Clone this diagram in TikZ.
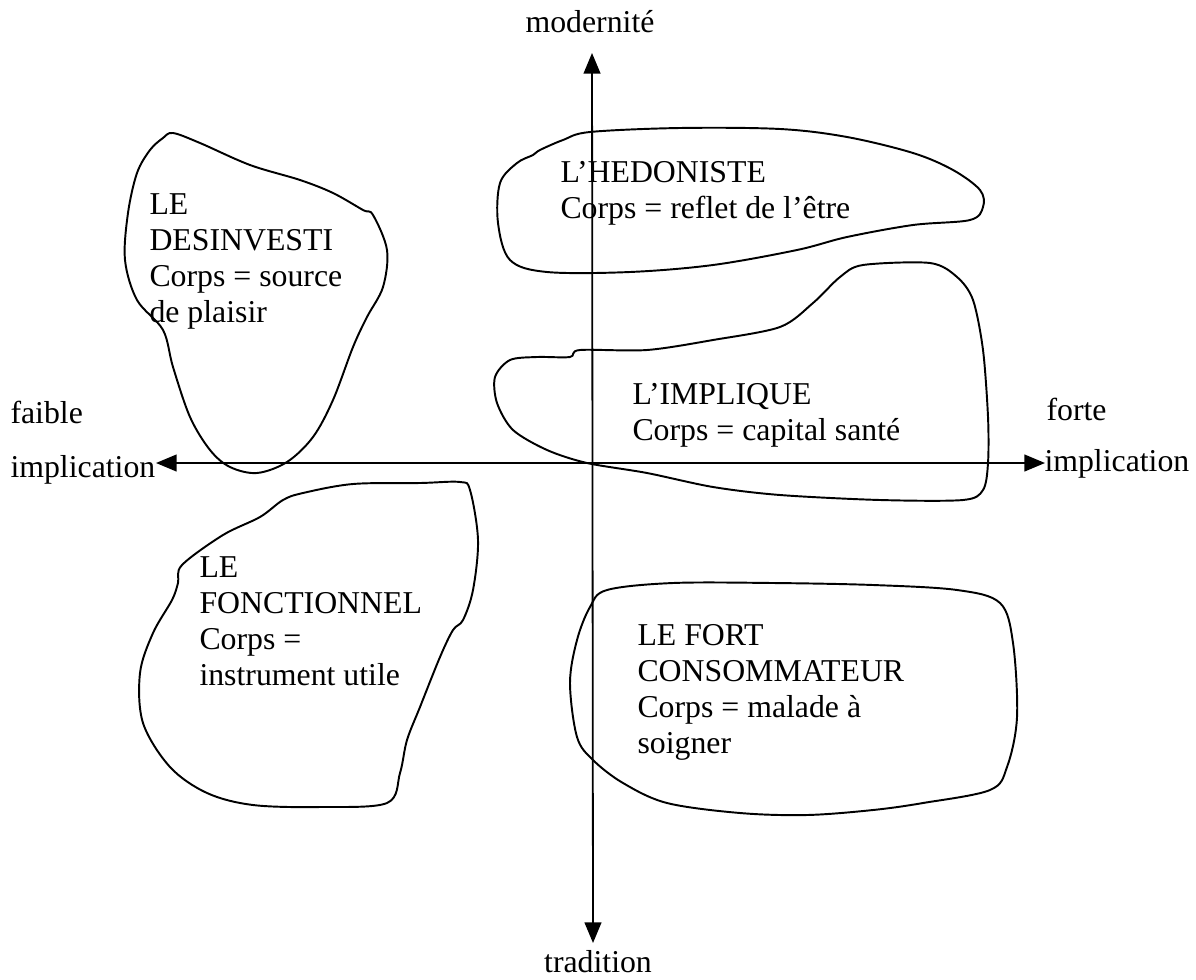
\documentclass[tikz,border=0pt]{standalone}
\usepackage{fontspec}
\setmainfont{Liberation Serif}
\usetikzlibrary{arrows.meta}
\begin{document}
\begin{tikzpicture}[x=0.387pt,y=-0.387pt,
  lbl/.style={inner sep=0pt,anchor=base west,align=left,font=\fontsize{12.3}{13.9}\selectfont},
  axis/.style={line width=0.7pt,{Triangle[length=8pt,width=6.5pt]}-{Triangle[length=8pt,width=6.5pt]}},
  blob/.style={line width=0.75pt}]
\useasboundingbox (0,0) rectangle (1196,979);
% axes
\coordinate (W) at (156,463);
\coordinate (E) at (1045,463);
\coordinate (N) at (592,53);
\coordinate (S) at (593,943);
\draw[axis] (W) -- (E);
\draw[axis] (S) -- (N);
% axis labels
\node[lbl,anchor=base] (mod) at (590,33) {modernité};
\node[lbl,anchor=base] (trad) at (598,972) {tradition};
\node[lbl] (faible) at (10,423) {faible};
\node[lbl] (implL) at (10,477) {implication};
\node[lbl] (forte) at (1046,420) {forte};
\node[lbl] (implR) at (1044,471) {implication};
% blobs
\draw[blob] plot[smooth cycle,tension=0.55] coordinates {
 (173,133) (200,143) (250,165) (300,180) (333,193) (363,210) (373,215)
 (387,250) (383,287) (367,317) (353,347) (333,400) (313,437) (287,462)
 (257,473) (230,467) (210,450) (190,417) (173,367) (163,330) (137,300)
 (125,260) (128,213) (137,173) (150,150) (163,138)};
\draw[blob] plot[smooth cycle,tension=0.55] coordinates {
 (460,482) (420,483) (353,484) (303,493) (283,500) (260,517) (223,535)
 (182,565) (178,583) (172,600) (153,633) (140,673) (143,723) (170,767)
 (207,793) (253,805) (320,807) (387,803) (400,773) (407,740) (420,707)
 (440,657) (453,630) (463,620) (473,590) (478,540) (470,490)};
\draw[blob] plot[smooth cycle,tension=0.55] coordinates {
 (540,150) (563,140) (590,132) (680,128) (780,129) (847,137) (913,153)
 (953,170) (980,190) (983,207) (970,220) (913,225) (847,237) (797,250)
 (713,265) (630,272) (547,272) (510,260) (498,223) (500,183) (517,163)
 (533,155)};
\draw[blob] plot[smooth cycle,tension=0.5] coordinates {
 (863,265) (930,263) (957,277) (973,300) (983,350) (988,417) (988,463)
 (983,490) (963,500) (880,500) (780,495) (713,487) (647,473) (587,463)
 (547,450) (513,430) (497,403) (495,377) (510,360) (537,357) (570,357)
 (580,350) (647,350) (713,340) (780,327) (813,303) (840,277)};
\draw[blob] plot[smooth cycle,tension=0.55] coordinates {
 (607,590) (673,583) (773,583) (873,585) (957,590) (1000,603) (1013,643)
 (1017,717) (1007,767) (990,790) (923,803) (873,810) (807,815) (740,813)
 (667,803) (623,783) (593,760) (577,737) (570,683) (577,640) (590,607)};
% blob texts (anchor = baseline of the last line)
\node[lbl] (desinv) at (149,322) {LE\\DESINVESTI\\Corps = source\\de plaisir};
\node[lbl] (fonct) at (199,685) {LE\\FONCTIONNEL\\Corps =\\instrument utile};
\node[lbl] (hedon) at (560,218) {L’HEDONISTE\\Corps = reflet de l’être};
\node[lbl] (impl) at (632,440) {L’IMPLIQUE\\Corps = capital santé};
\node[lbl] (fort) at (637,753) {LE FORT\\CONSOMMATEUR\\Corps = malade à\\soigner};
\end{tikzpicture}
\end{document}
